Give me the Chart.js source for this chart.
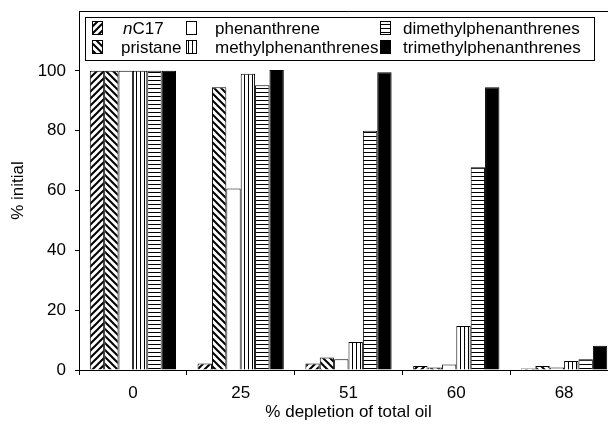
<!DOCTYPE html>
<html>
<head>
<meta charset="utf-8">
<script src="https://cdn.jsdelivr.net/npm/chart.js@4.4.0/dist/chart.umd.min.js"></script>
<style>
  html, body { margin: 0; padding: 0; background: #fff; overflow: hidden; }
  #wrap { width: 608px; height: 431px; overflow: hidden; }
</style>
</head>
<body>
<div id="wrap"><canvas id="oilChart" width="618" height="431"></canvas></div>
<script>
const categories = ['0', '25', '51', '60', '68'];
const nC17 = [100, 2.2, 2.2, 1.3, 0.5];
const pristane = [100, 94.5, 4.2, 0.8, 1.3];
const phenanthrene = [100, 60.7, 3.6, 1.8, 0.8];
const methylphenanthrenes = [100, 99, 9.4, 14.7, 3];
const dimethylphenanthrenes = [100, 95.2, 80, 67.8, 3.6];
const trimethylphenanthrenes = [100, 100.3, 99.5, 94.5, 8.1];
const yTicks = [0, 20, 40, 60, 80, 100];

const FONT = '"Liberation Sans", Arial, Helvetica, sans-serif';

function makePattern(kind) {
    const c = document.createElement('canvas');
    const p = c.getContext('2d');
    let s = 4;
    if (kind === 'fwd' || kind === 'back') s = 7;
    c.width = s; c.height = s;
    p.fillStyle = '#fff';
    p.fillRect(0, 0, s, s);
    p.strokeStyle = '#000';
    if (kind === 'fwd') {
        p.lineWidth = 2;
        p.beginPath();
        p.moveTo(0, s); p.lineTo(s, 0);
        p.moveTo(-1, 1); p.lineTo(1, -1);
        p.moveTo(s - 1, s + 1); p.lineTo(s + 1, s - 1);
        p.stroke();
    } else if (kind === 'back') {
        p.lineWidth = 2;
        p.beginPath();
        p.moveTo(0, 0); p.lineTo(s, s);
        p.moveTo(s - 1, -1); p.lineTo(s + 1, 1);
        p.moveTo(-1, s - 1); p.lineTo(1, s + 1);
        p.stroke();
    } else if (kind === 'vert') {
        p.fillStyle = '#000';
        p.fillRect(0, 0, 1, s);
    } else if (kind === 'horiz') {
        p.fillStyle = '#000';
        p.fillRect(0, 0, s, 1);
    }
    return p.createPattern(c, 'repeat');
}

const fills = {
    fwd: makePattern('fwd'),
    back: makePattern('back'),
    vert: makePattern('vert'),
    horiz: makePattern('horiz')
};

const series = [
    { label: 'nC17', data: nC17, fill: fills.fwd },
    { label: 'pristane', data: pristane, fill: fills.back },
    { label: 'phenanthrene', data: phenanthrene, fill: '#fff' },
    { label: 'methylphenanthrenes', data: methylphenanthrenes, fill: fills.vert },
    { label: 'dimethylphenanthrenes', data: dimethylphenanthrenes, fill: fills.horiz },
    { label: 'trimethylphenanthrenes', data: trimethylphenanthrenes, fill: '#000' }
];

// legend laid out in columns like the original figure
const legendSpots = [
    { x: 92, y: 28 }, { x: 92, y: 47 },
    { x: 186, y: 28 }, { x: 186, y: 47 },
    { x: 380, y: 28 }, { x: 380, y: 47 }
];

const framePlugin = {
    id: 'frameAndLegend',
    afterDraw(chart) {
        const ctx = chart.ctx;
        const a = chart.chartArea;
        ctx.save();
        ctx.strokeStyle = '#000';
        ctx.lineWidth = 1;
        ctx.beginPath();
        ctx.moveTo(a.left, a.top + 0.5);
        ctx.lineTo(a.right - 0.5, a.top + 0.5);
        ctx.lineTo(a.right - 0.5, a.bottom);
        ctx.stroke();

        // legend box
        ctx.fillStyle = '#fff';
        ctx.fillRect(85, 17, 510, 43);
        ctx.strokeRect(85.5, 17.5, 509, 43);

        ctx.font = '17px ' + FONT;
        ctx.textBaseline = 'middle';
        series.forEach((s, i) => {
            const spot = legendSpots[i];
            ctx.fillStyle = s.fill;
            ctx.fillRect(spot.x, spot.y - 7, 10, 13);
            ctx.strokeRect(spot.x + 0.5, spot.y - 6.5, 10, 13);
            ctx.fillStyle = '#000';
            let tx = spot.x + 29;
            if (s.label === 'nC17') {
                tx = spot.x + 31;
                ctx.font = 'italic 17px ' + FONT;
                ctx.fillText('n', tx, spot.y + 1);
                tx += ctx.measureText('n').width;
                ctx.font = '17px ' + FONT;
                ctx.fillText('C17', tx, spot.y + 1);
            } else {
                if (spot.x > 300) tx = spot.x + 23;
                ctx.fillText(s.label, tx, spot.y + 1);
            }
        });
        ctx.restore();
    }
};

const ctx = document.getElementById('oilChart').getContext('2d');
const oilChart = new Chart(ctx, {
    type: 'bar',
    data: {
        labels: categories,
        datasets: series.map(s => ({
            label: s.label,
            data: s.data,
            backgroundColor: s.fill,
            borderColor: '#000',
            borderWidth: 1,
            borderSkipped: 'start',
            categoryPercentage: 0.8,
            barPercentage: 1.0
        }))
    },
    options: {
        responsive: false,
        animation: false,
        layout: { padding: { top: 11, left: 0, right: 0, bottom: 0 } },
        scales: {
            x: {
                afterFit: s => {
                    s.height = 61;
                    s.paddingLeft = 0;
                    s.paddingRight = 0;
                },
                grid: {
                    display: true,
                    drawOnChartArea: false,
                    offset: true,
                    color: '#000',
                    tickLength: 5
                },
                border: { display: true, color: '#000', width: 1 },
                ticks: {
                    color: '#000',
                    padding: 8,
                    font: { size: 17, family: FONT }
                },
                title: {
                    display: true,
                    text: '% depletion of total oil',
                    color: '#000',
                    padding: { top: 0, bottom: 8 },
                    font: { size: 17, family: FONT }
                }
            },
            y: {
                min: 0,
                max: 120,
                afterFit: s => {
                    s.width = 79;
                    s.paddingTop = 0;
                    s.paddingBottom = 0;
                },
                afterBuildTicks: s => { s.ticks = yTicks.map(v => ({ value: v })); },
                grid: {
                    display: true,
                    drawOnChartArea: false,
                    color: '#000',
                    tickLength: 4
                },
                border: { display: true, color: '#000', width: 1 },
                ticks: {
                    color: '#000',
                    padding: 9,
                    font: { size: 17, family: FONT }
                },
                title: {
                    display: true,
                    text: '% initial',
                    color: '#000',
                    padding: { top: 8, bottom: 0 },
                    font: { size: 17, family: FONT }
                }
            }
        },
        plugins: {
            legend: { display: false },
            tooltip: { enabled: false }
        }
    },
    plugins: [framePlugin]
});
</script>
</body>
</html>
